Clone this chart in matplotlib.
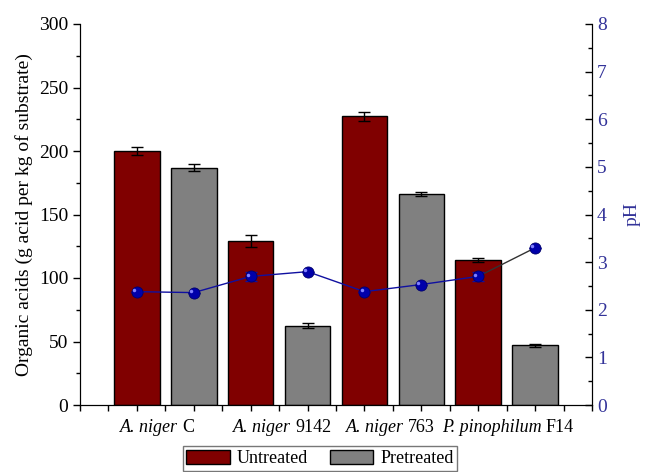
import matplotlib
matplotlib.use('Agg')
import matplotlib.pyplot as plt
from matplotlib.patches import Patch
from matplotlib.ticker import MultipleLocator

plt.rcParams['font.family'] = ['Liberation Serif', 'DejaVu Serif']

# data
positions = [1, 2, 3, 4, 5, 6, 7, 8]
acids = [200, 187, 129, 62.5, 227.5, 166, 114, 47]
acids_err = [3, 2.5, 4.5, 2, 3.5, 1.5, 1.5, 1]
ph = [2.38, 2.36, 2.70, 2.80, 2.38, 2.53, 2.70, 3.30]
ph_err = [0, 0, 0.09, 0, 0, 0, 0.09, 0]
treatment = ['Untreated', 'Pretreated'] * 4
species = ['A. niger', 'A. niger', 'A. niger', 'P. pinophilum']
strains = ['C', '9142', '763', 'F14']
label_split = [1.76, 3.74, 5.73, 8.15]

colors = {'Untreated': '#800000', 'Pretreated': '#808080'}

fig = plt.figure(figsize=(6.46, 4.72), dpi=100)
ax = fig.add_axes([80/646, 1-405/472, 512/646, 381/472])
ax2 = ax.twinx()

ax.bar(positions, acids, width=0.8, color=[colors[t] for t in treatment],
       edgecolor='black', linewidth=1, zorder=2)
ax.errorbar(positions, acids, yerr=acids_err, fmt='none', ecolor='black',
            elinewidth=1, capsize=4, capthick=1, zorder=3)

ax.set_xlim(0, 9)
ax.set_ylim(0, 300)
ax.yaxis.set_major_locator(MultipleLocator(50))
ax.yaxis.set_minor_locator(MultipleLocator(25))
ax.set_xticks([i for i in range(10)])
ax.set_xticks([i + 0.5 for i in range(9)], minor=True)
ax.set_xticklabels([])
ax.tick_params(axis='x', which='both', direction='out', length=4, width=1)
ax.tick_params(axis='y', which='major', direction='out', length=5, width=1, labelsize=14)
ax.tick_params(axis='y', which='minor', direction='out', length=3, width=1)
ax.tick_params(axis='y', right=False)
xt = ax.get_xaxis_transform()
for xp, sp, st in zip(label_split, species, strains):
    ax.text(xp - 0.04, -0.036, sp, transform=xt, ha='right', va='top',
            fontsize=13, fontstyle='italic')
    ax.text(xp + 0.04, -0.036, st, transform=xt, ha='left', va='top', fontsize=13)
ax.set_ylabel('Organic acids (g acid per kg of substrate)', fontsize=14, labelpad=4)
ax.spines['top'].set_visible(False)

ph_color = '#333399'
ax2.plot(positions[:7], ph[:7], color='#1010a0', linewidth=1, zorder=3)
ax2.plot(positions[6:], ph[6:], color='#333333', linewidth=1, zorder=3)
ax2.errorbar(positions, ph, yerr=ph_err, fmt='none', ecolor='#1010a0',
             elinewidth=1, capsize=4, zorder=4)
ax2.plot(positions, ph, 'o', color='#0000aa', markersize=8,
         markeredgecolor='#00006a', markeredgewidth=0.6, zorder=5)
ax2.plot([p - 0.05 for p in positions], [v + 0.04 for v in ph], 'o',
         color='#8080ff', markersize=2.5, markeredgewidth=0, zorder=6)
ax2.set_ylim(0, 8)
ax2.yaxis.set_major_locator(MultipleLocator(1))
ax2.yaxis.set_minor_locator(MultipleLocator(0.5))
ax2.tick_params(axis='y', which='major', direction='in', length=5, width=1,
                labelsize=14, labelcolor=ph_color)
ax2.tick_params(axis='y', which='minor', direction='in', length=3, width=1)
ax2.set_ylabel('pH', fontsize=14, color=ph_color, labelpad=12)
ax2.spines['top'].set_visible(False)

handles = [Patch(facecolor=colors['Untreated'], edgecolor='black', label='Untreated'),
           Patch(facecolor=colors['Pretreated'], edgecolor='black', label='Pretreated')]
leg = fig.legend(handles=handles, loc='upper center', ncol=2,
                 bbox_to_anchor=(320/646, 1-446/472), fontsize=13,
                 frameon=True, fancybox=False, edgecolor='#555555',
                 handlelength=2.4, handleheight=0.85, columnspacing=1.2,
                 handletextpad=0.4, borderpad=0.2, borderaxespad=0)
leg.get_frame().set_linewidth(1)

fig.savefig('out.png', dpi=100)
